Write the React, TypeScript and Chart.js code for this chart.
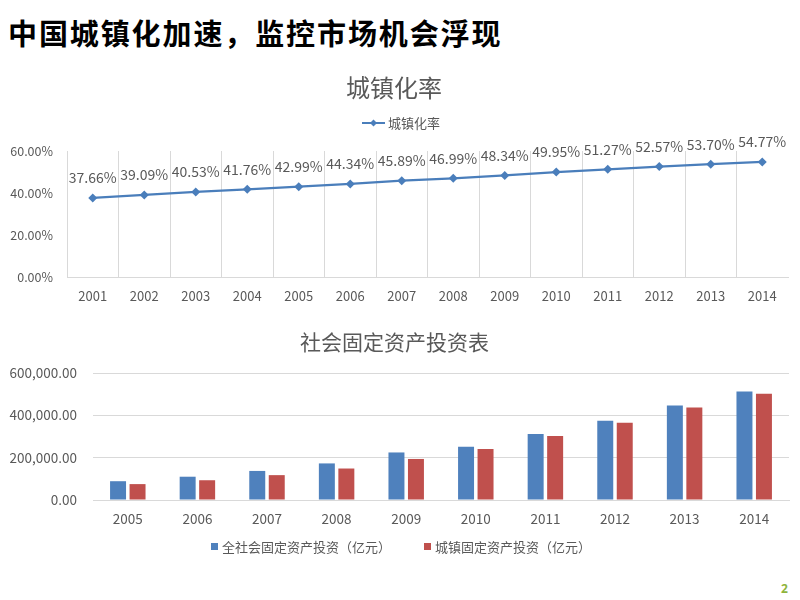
import React, { useEffect, useRef } from 'react';
import { Chart, registerables } from 'chart.js';

Chart.register(...registerables);

const FAMILY = '"Noto Sans CJK SC", "Noto Sans", sans-serif';
const GREY = '#595959';
const GRID = '#D9D9D9';

const pageTitle = '中国城镇化加速，监控市场机会浮现';
const pageNumber = '2';

const rateTitle = '城镇化率';
const rateLabel = '城镇化率';
const rateYears = ['2001', '2002', '2003', '2004', '2005', '2006', '2007', '2008', '2009', '2010', '2011', '2012', '2013', '2014'];
const rateValues = [37.66, 39.09, 40.53, 41.76, 42.99, 44.34, 45.89, 46.99, 48.34, 49.95, 51.27, 52.57, 53.7, 54.77];
const rateMax = 60;
const rateStep = 20;

const investTitle = '社会固定资产投资表';
const investYears = ['2005', '2006', '2007', '2008', '2009', '2010', '2011', '2012', '2013', '2014'];
const totalLabel = '全社会固定资产投资（亿元）';
const urbanLabel = '城镇固定资产投资（亿元）';
const totalValues = [88774, 109998, 137324, 172828, 224599, 251684, 311485, 374695, 446294, 512021];
const urbanValues = [75095, 93369, 117464, 148738, 193920, 241431, 302396, 364854, 436528, 502005];
const investMax = 600000;
const investStep = 200000;

const pointLabelPlugin = {
  id: 'pointLabels',
  afterDatasetsDraw(chart: any, _args: any, opts: any) {
    if (!opts || !opts.display) return;
    const ctx = chart.ctx;
    const meta = chart.getDatasetMeta(0);
    const data = chart.data.datasets[0].data as number[];
    ctx.save();
    ctx.font = `${opts.size}px ${FAMILY}`;
    ctx.fillStyle = GREY;
    ctx.textAlign = 'center';
    ctx.textBaseline = 'middle';
    meta.data.forEach((pt: any, i: number) => {
      ctx.fillText(`${data[i].toFixed(2)}%`, pt.x, pt.y - opts.offset);
    });
    ctx.restore();
  },
};

const flatLegendPlugin = {
  id: 'flatLegend',
  afterDraw(chart: any, _args: any, opts: any) {
    if (!opts || !opts.display) return;
    const ctx = chart.ctx;
    ctx.save();
    ctx.font = `${opts.size}px ${FAMILY}`;
    ctx.textBaseline = 'middle';
    ctx.textAlign = 'left';
    const isLine = opts.kind === 'line';
    const items = chart.data.datasets.map((ds: any) => ({
      text: ds.label as string,
      color: (isLine ? ds.borderColor : ds.backgroundColor) as string,
    }));
    const symW = isLine ? 23 : 7;
    const symGap = isLine ? 3 : 4;
    const widths = items.map((it: any) => symW + symGap + ctx.measureText(it.text).width);
    const total = widths.reduce((a: number, b: number) => a + b, 0) + opts.itemGap * (items.length - 1);
    let x = chart.width / 2 - total / 2 + 1;
    const y = opts.y;
    items.forEach((it: any, i: number) => {
      ctx.fillStyle = it.color;
      ctx.strokeStyle = it.color;
      if (isLine) {
        ctx.lineWidth = 2;
        ctx.beginPath();
        ctx.moveTo(x, y);
        ctx.lineTo(x + symW, y);
        ctx.stroke();
        const cx = x + symW / 2;
        const r = 3.5;
        ctx.beginPath();
        ctx.moveTo(cx, y - r);
        ctx.lineTo(cx + r, y);
        ctx.lineTo(cx, y + r);
        ctx.lineTo(cx - r, y);
        ctx.closePath();
        ctx.fill();
      } else {
        ctx.fillRect(x, y - 3.5, 7, 7);
      }
      ctx.fillStyle = GREY;
      ctx.fillText(it.text, x + symW + symGap, y + 0.5);
      x += widths[i] + opts.itemGap;
    });
    ctx.restore();
  },
};

function RateChart() {
  const ref = useRef<HTMLCanvasElement | null>(null);
  useEffect(() => {
    if (!ref.current) return;
    const chart = new Chart(ref.current, {
      type: 'line',
      data: {
        labels: rateYears,
        datasets: [
          {
            label: rateLabel,
            data: rateValues,
            borderColor: '#4A7EBB',
            backgroundColor: '#4A7EBB',
            borderWidth: 2.25,
            pointStyle: 'rectRot',
            pointRadius: 4.5,
            pointBorderWidth: 0,
            pointBackgroundColor: '#4A7EBB',
            tension: 0,
          },
        ],
      },
      plugins: [pointLabelPlugin, flatLegendPlugin],
      options: {
        animation: false,
        responsive: false,
        events: [],
        layout: { padding: { left: 0, right: 12, top: 0, bottom: 0 } },
        plugins: {
          legend: { display: false },
          tooltip: { enabled: false },
          title: {
            display: true,
            text: rateTitle,
            color: GREY,
            font: { size: 24, family: FAMILY, weight: 'normal' },
            padding: { top: 13.6, bottom: 48.6 },
          },
          pointLabels: { display: true, size: 14, offset: 20 },
          flatLegend: { display: true, kind: 'line', size: 13, y: 63, itemGap: 30 },
        } as any,
        scales: {
          x: {
            offset: true,
            grid: {
              display: true,
              offset: true,
              drawTicks: false,
              color: (c: any) => (c.type === 'tick' ? GRID : 'rgba(0,0,0,0)'),
              lineWidth: 1,
            },
            border: { display: true, color: GRID, width: 1 },
            ticks: { color: GREY, font: { size: 13, family: FAMILY }, padding: 11 },
            afterFit: (s: any) => {
              s.height = 33;
            },
          },
          y: {
            min: 0,
            max: rateMax,
            grid: { display: false, drawTicks: false },
            border: { display: false },
            ticks: {
              stepSize: rateStep,
              color: GREY,
              font: { size: 12.5, family: FAMILY },
              padding: 14,
              callback: (v: any) => `${Number(v).toFixed(2)}%`,
            },
            afterFit: (s: any) => {
              s.width = 67;
            },
          },
        },
      },
    } as any);
    return () => chart.destroy();
  }, []);
  return <canvas ref={ref} width={800} height={250} style={{ display: 'block', width: 800, height: 250 }} />;
}

function InvestChart() {
  const ref = useRef<HTMLCanvasElement | null>(null);
  useEffect(() => {
    if (!ref.current) return;
    const chart = new Chart(ref.current, {
      type: 'bar',
      data: {
        labels: investYears,
        datasets: [
          {
            label: totalLabel,
            data: totalValues,
            backgroundColor: '#4F81BD',
            borderWidth: 0,
            barPercentage: 0.82,
            categoryPercentage: 0.56,
          },
          {
            label: urbanLabel,
            data: urbanValues,
            backgroundColor: '#C0504D',
            borderWidth: 0,
            barPercentage: 0.82,
            categoryPercentage: 0.56,
          },
        ],
      },
      plugins: [flatLegendPlugin],
      options: {
        animation: false,
        responsive: false,
        events: [],
        layout: { padding: { left: 0, right: 11, top: 0, bottom: 0 } },
        plugins: {
          legend: { display: false },
          tooltip: { enabled: false },
          title: {
            display: true,
            text: investTitle,
            color: GREY,
            font: { size: 21, family: FAMILY, weight: 'normal' },
            padding: { top: 14.1, bottom: 18.7 },
          },
          flatLegend: { display: true, kind: 'box', size: 13, y: 231.5, itemGap: 33 },
        } as any,
        scales: {
          x: {
            grid: { display: false, drawTicks: false },
            border: { display: true, color: GRID, width: 1 },
            ticks: { color: GREY, font: { size: 13.5, family: FAMILY }, padding: 11 },
            afterFit: (s: any) => {
              s.height = 75;
            },
          },
          y: {
            min: 0,
            max: investMax,
            grid: { display: true, color: GRID, lineWidth: 1, drawTicks: false },
            border: { display: false },
            ticks: {
              stepSize: investStep,
              color: GREY,
              font: { size: 13.5, family: FAMILY },
              padding: 16,
              callback: (v: any) =>
                Number(v).toLocaleString('en-US', { minimumFractionDigits: 2, maximumFractionDigits: 2 }),
            },
            afterFit: (s: any) => {
              s.width = 93;
            },
          },
        },
      },
    } as any);
    return () => chart.destroy();
  }, []);
  return <canvas ref={ref} width={800} height={260} style={{ display: 'block', width: 800, height: 260 }} />;
}

export default function App() {
  return (
    <div
      style={{
        position: 'absolute',
        left: 0,
        top: 0,
        width: 800,
        height: 600,
        background: '#ffffff',
        overflow: 'hidden',
        fontFamily: FAMILY,
      }}
    >
      <div
        style={{
          position: 'absolute',
          left: 8,
          top: 15,
          fontSize: 29,
          lineHeight: '34px',
          fontWeight: 700,
          letterSpacing: '1.9px',
          color: '#000000',
          whiteSpace: 'nowrap',
        }}
      >
        {pageTitle}
      </div>
      <div style={{ position: 'absolute', left: 0, top: 60 }}>
        <RateChart />
      </div>
      <div style={{ position: 'absolute', left: 0, top: 315 }}>
        <InvestChart />
      </div>
      <div
        style={{
          position: 'absolute',
          left: 781,
          top: 582,
          fontSize: 12,
          lineHeight: '14px',
          fontWeight: 700,
          color: '#8EB43C',
          fontFamily: '"Noto Sans", sans-serif',
        }}
      >
        {pageNumber}
      </div>
    </div>
  );
}
